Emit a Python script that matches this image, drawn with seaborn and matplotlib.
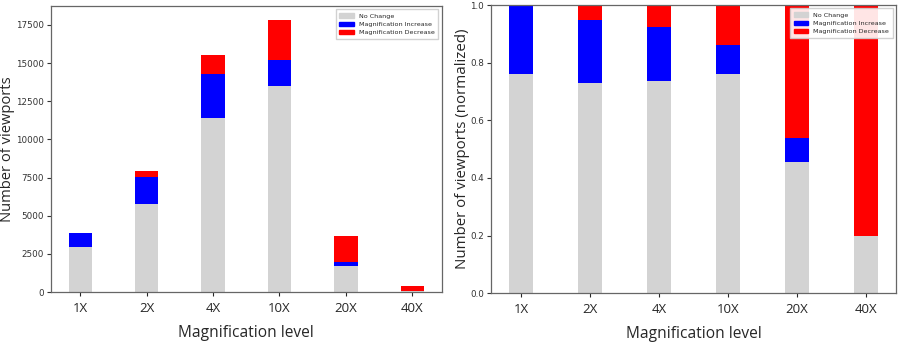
import seaborn as sns
import pandas as pd
import matplotlib.pyplot as plt
from matplotlib.patches import Patch

levels = ['1X', '2X', '4X', '10X', '20X', '40X']

# counts (stack tops)
no_change = [2950, 5800, 11400, 13500, 1700, 80]
increase = [950, 1750, 2900, 1700, 300, 0]
decrease = [0, 400, 1200, 2600, 1700, 320]

# normalized shares (right panel)
no_change_n = [0.76, 0.73, 0.735, 0.76, 0.455, 0.20]
increase_n = [0.24, 0.22, 0.19, 0.10, 0.085, 0.0]
decrease_n = [0.0, 0.05, 0.075, 0.14, 0.46, 0.80]

colors = {'No Change': 'lightgrey', 'Magnification Increase': 'blue', 'Magnification Decrease': 'red'}

sns.set_style('white')
plt.rcParams['font.family'] = ['DejaVu Sans']

fig = plt.figure(figsize=(9.02, 3.42), dpi=100)
ax1 = fig.add_axes([0.0565, 0.146, 0.433, 0.836])
ax2 = fig.add_axes([0.5443, 0.143, 0.449, 0.842])


def stacked(ax, nc, inc, dec):
    df = pd.DataFrame({'level': levels, 'nc': nc, 'inc': inc, 'dec': dec})
    kw = dict(width=0.35, saturation=1, ax=ax, order=levels, linewidth=0)
    sns.barplot(data=df, x='level', y='nc', color=colors['No Change'], **kw)
    sns.barplot(data=df, x='level', y='inc', bottom=df['nc'],
                color=colors['Magnification Increase'], **kw)
    sns.barplot(data=df, x='level', y='dec', bottom=df['nc'] + df['inc'],
                color=colors['Magnification Decrease'], **kw)
    ax.set_xlim(-0.44, 5.44)
    handles = [Patch(color=c, label=k) for k, c in colors.items()]
    ax.legend(handles=handles, loc='upper right', fontsize=4.6, handlelength=2.2,
              borderpad=0.6, labelspacing=0.45, fancybox=False, framealpha=0.9)
    for s in ax.spines.values():
        s.set_color('#666666')
        s.set_linewidth(0.9)
    ax.tick_params(axis='y', labelsize=6.3, colors='#333333', length=3, left=True, pad=2)
    ax.tick_params(axis='x', labelsize=9.5, length=3, bottom=True, pad=4)
    for t in ax.get_xticklabels():
        t.set_fontfamily('Open Sans')
    ax.set_xlabel('Magnification level', fontsize=11.2, family='Open Sans', labelpad=7)


stacked(ax1, no_change, increase, decrease)
ax1.set_ylim(0, 18724)
ax1.set_yticks([0, 2500, 5000, 7500, 10000, 12500, 15000, 17500])
ax1.set_ylabel('Number of viewports', fontsize=10.6, family='Open Sans')
ax1.yaxis.set_label_coords(-0.092, 0.5)

stacked(ax2, no_change_n, increase_n, decrease_n)
ax2.set_ylim(0, 1.0)
ax2.set_yticks([0, 0.2, 0.4, 0.6, 0.8, 1.0])
ax2.set_ylabel('Number of viewports (normalized)', fontsize=10.8, family='Open Sans')
ax2.yaxis.set_label_coords(-0.052, 0.5)

fig.savefig('out.png', dpi=100)
